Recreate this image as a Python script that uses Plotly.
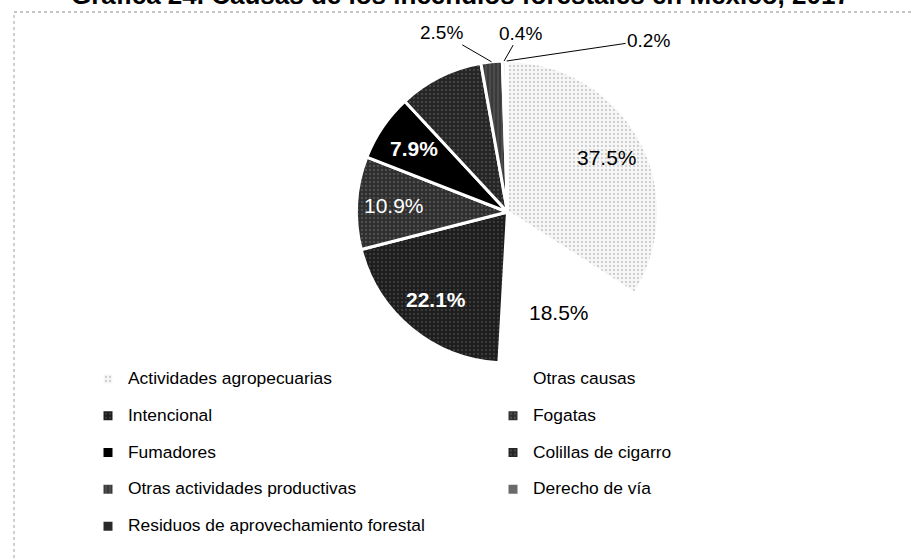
import math
import plotly.graph_objects as go

# ── data ──
causas = [
    "Actividades agropecuarias", "Otras causas", "Intencional", "Fogatas",
    "Fumadores", "Colillas de cigarro", "Otras actividades productivas",
    "Derecho de vía", "Residuos de aprovechamiento forestal",
]
valores = [37.5, 18.5, 22.1, 10.9, 7.9, 10.0, 2.5, 0.4, 0.2]
etiquetas = ["37.5%", "18.5%", "22.1%", "10.9%", "7.9%", "", "2.5%", "0.4%", "0.2%"]

TITLE = "Gráfica 24. Causas de los incendios forestales en México, 2017"
FONT = "Liberation Sans, Arial, sans-serif"
W, H = 913, 558
DOM_X = [356.5 / W, 658.5 / W]
DOM_Y = [1 - 363 / H, 1 - 61 / H]

# greyscale scan look
fill = ["#f6f6f6", "#ffffff", "#1e1e1e", "#303030", "#000000", "#262626", "#3a3a3a", "#6a6a6a", "#2a2a2a"]
pat_shape = [".", "", ".", ".", "", ".", "|", "", ""]
pat_fg = ["#8a8a8a", "#ffffff", "#6e6e6e", "#8c8c8c", "#000000", "#7a7a7a", "#9a9a9a", "#6a6a6a", "#2a2a2a"]
txt_color = ["black", "black", "white", "white", "white", "white", "black", "black", "black"]
bold = [False, False, True, False, True, False, False, False, False]
small = [6, 7, 8]  # thin slices labelled outside with leader lines
label_offset = {6: (-50, -29), 7: (16, -28), 8: (142, -21)}
LABEL_R = 0.75  # inside labels sit at 3/4 of the radius, like the spreadsheet did

# legend rows are spaced wider than plotly's default, so pad each entry
leyenda = [f"<span style='font-size:17.4px'>{c}</span><br>&nbsp;" for c in causas]

fig = go.Figure(go.Pie(
    labels=leyenda,
    values=valores,
    textinfo="none",
    sort=False,
    direction="clockwise",
    rotation=0,
    marker=dict(
        colors=fill,
        line=dict(color="white", width=3),
        pattern=dict(shape=pat_shape, fgcolor=pat_fg, bgcolor=fill,
                     size=4, solidity=0.18, fillmode="overlay"),
    ),
    domain=dict(x=DOM_X, y=DOM_Y),
    hoverinfo="label+percent",
))

# slice labels placed along each slice's mid-angle
cx = (DOM_X[0] + DOM_X[1]) / 2 * W
cy = (1 - (DOM_Y[0] + DOM_Y[1]) / 2) * H
r = min((DOM_X[1] - DOM_X[0]) * W, (DOM_Y[1] - DOM_Y[0]) * H) / 2
total = sum(valores)
annotations = []
acc = 0.0
for i, v in enumerate(valores):
    mid = (acc + v / 2) / total * 2 * math.pi
    acc += v
    if not etiquetas[i]:
        continue
    if i in small:
        px = cx + r * math.sin(mid)
        py = cy - r * math.cos(mid)
        ax, ay = label_offset[i]
        annotations.append(dict(
            text=etiquetas[i], x=px / W, y=1 - py / H, xref="paper", yref="paper",
            ax=ax, ay=ay, showarrow=True, arrowhead=0, arrowwidth=1, arrowcolor="black",
            standoff=0, font=dict(family=FONT, size=19, color="black"),
        ))
    else:
        px = cx + LABEL_R * r * math.sin(mid)
        py = cy - LABEL_R * r * math.cos(mid)
        t = f"<b>{etiquetas[i]}</b>" if bold[i] else etiquetas[i]
        annotations.append(dict(
            text=t, x=px / W, y=1 - py / H, xref="paper", yref="paper",
            xanchor="center", yanchor="middle", showarrow=False,
            font=dict(family=FONT, size=21, color=txt_color[i]),
        ))

# title is cut by the top edge in the scan
annotations.append(dict(
    text=f"<b>{TITLE}</b>", x=460 / W, xref="paper", y=1 - 12 / H, yref="paper",
    xanchor="center", yanchor="bottom", showarrow=False,
    font=dict(family=FONT, size=26, color="black"),
))

fig.update_layout(
    width=W, height=H,
    margin=dict(l=0, r=0, t=0, b=0, autoexpand=False),
    paper_bgcolor="white",
    font=dict(family=FONT, color="black"),
    showlegend=True,
    legend=dict(
        orientation="h", x=88 / W, xanchor="left", y=1 - 364 / H, yanchor="top",
        entrywidth=360, entrywidthmode="pixels",
        font=dict(family=FONT, size=13.0, color="black"),
        valign="top", traceorder="normal", bgcolor="rgba(0,0,0,0)",
    ),
    annotations=annotations,
    shapes=[
        dict(type="line", xref="paper", yref="paper", x0=14 / W, x1=1, y0=1 - 12 / H, y1=1 - 12 / H,
             line=dict(color="#8a8a8a", width=1, dash="dot")),
        dict(type="line", xref="paper", yref="paper", x0=14 / W, x1=14 / W, y0=0, y1=1 - 12 / H,
             line=dict(color="#a0a0a0", width=1, dash="dot")),
    ],
)

# the page's default 8px body margin would shift the whole figure
fig.write_html("out.html", config={"displayModeBar": False},
               post_script="document.body.style.margin='0';")
